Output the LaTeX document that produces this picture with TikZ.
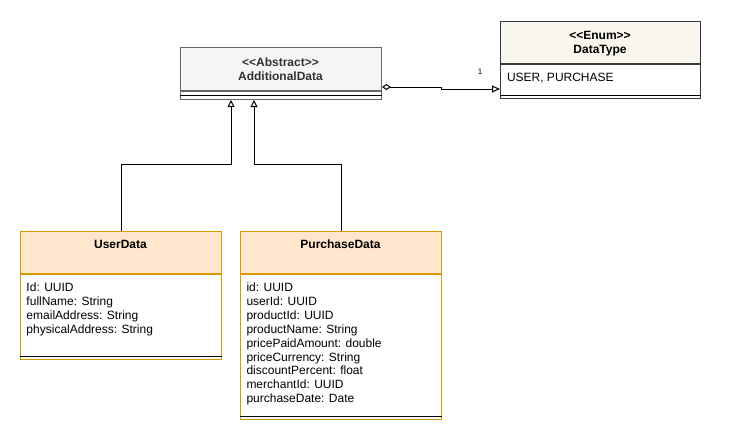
\documentclass[tikz,border=0pt]{standalone}
\usepackage{fontspec}
\setmainfont{Liberation Sans}
\usetikzlibrary{arrows.meta,calc}
\definecolor{grayfill}{HTML}{F5F5F5}
\definecolor{grayline}{HTML}{666666}
\definecolor{graytext}{HTML}{333333}
\definecolor{enumfill}{HTML}{F9F7ED}
\definecolor{enumline}{HTML}{36393D}
\definecolor{orangefill}{HTML}{FFE6CC}
\definecolor{orangeline}{HTML}{D79B00}
\begin{document}
\begin{tikzpicture}[x=1pt,y=-1pt,line width=1pt,
  part/.style={draw,rectangle,inner sep=0pt,anchor=north west,minimum width=201pt},
  sep/.style={line width=1pt,draw=black},
  txt/.style={inner sep=0pt,font=\fontsize{12}{14}\selectfont},
  title/.style={txt,anchor=base,font=\fontsize{12}{14}\selectfont\bfseries},
  attr/.style={txt,anchor=base west},
  gen/.style={-{Triangle[open,length=7pt,width=7pt]}},
  agg/.style={{Diamond[open,length=9pt,width=6pt]}-{Triangle[open,length=8pt,width=7pt]}}]
\useasboundingbox[fill=white] (0,0) rectangle (729,440);

% AdditionalData
\node[part,fill=grayfill,draw=grayline,minimum height=43pt] (addh) at (180,47) {};
\node[part,draw=grayline,minimum height=8pt] (addb) at (addh.south west) {};
\draw[sep] ($(addb.west)$) -- ($(addb.east)$);
\node[title,text=graytext] (addt1) at (280.5,66) {<{}<Abstract>{}>};
\node[title,text=graytext] (addt2) at (280.5,80) {AdditionalData};

% DataType
\node[part,fill=enumfill,draw=enumline,minimum width=200pt,minimum height=42pt] (dth) at (500,21) {};
\node[part,draw=enumline,minimum width=200pt,minimum height=34pt] (dtb) at (dth.south west) {};
\draw[sep] ($(dtb.south west)+(0,-4)$) -- ($(dtb.south east)+(0,-4)$);
\node[title] (dtt1) at (600,39.5) {<{}<Enum>{}>};
\node[title] (dtt2) at (600,53.5) {DataType};
\node[attr] (dta) at (506.5,81.7) {USER, PURCHASE};

% UserData
\node[part,fill=orangefill,draw=orangeline,minimum height=42pt] (userh) at (20,231) {};
\node[part,draw=orangeline,minimum height=85pt] (userb) at (userh.south west) {};
\draw[sep] ($(userb.south west)+(0,-4)$) -- ($(userb.south east)+(0,-4)$);
\node[title] (usert) at (120.5,248.6) {UserData};
\foreach \t [count=\i from 0] in {Id: UUID,fullName: String,emailAddress: String,physicalAddress: String}
  \node[attr] (ua\i) at (26,291.5+13.9*\i) {\t};

% PurchaseData
\node[part,fill=orangefill,draw=orangeline,minimum height=42pt] (purh) at (240,231) {};
\node[part,draw=orangeline,minimum height=145pt] (purb) at (purh.south west) {};
\draw[sep] ($(purb.south west)+(0,-4)$) -- ($(purb.south east)+(0,-4)$);
\node[title] (purt) at (340.5,248.6) {PurchaseData};
\foreach \t [count=\i from 0] in {id: UUID,userId: UUID,productId: UUID,productName: String,pricePaidAmount: double,priceCurrency: String,discountPercent: float,merchantId: UUID,purchaseDate: Date}
  \node[attr] (pa\i) at (246,291.5+13.9*\i) {\t};

% connectors
\coordinate (g1) at ($(addb.south west)+(51,0)$);
\coordinate (g2) at ($(addb.south west)+(74,0)$);
\draw[gen] (userh.north) -- ++(0,-67) -| (g1);
\draw[gen] (purh.north) -- ++(0,-67) -| (g2);
\coordinate (a1) at ($(addh.south east)+(0,-4)$);
\coordinate (d1) at ($(dtb.north west)+(0,25)$);
\draw[agg] (a1) -- ++(59,0) |- (d1);
\node[inner sep=0pt,anchor=base,font=\fontsize{8}{9}\selectfont] (one) at (480,74) {1};
\end{tikzpicture}
\end{document}
